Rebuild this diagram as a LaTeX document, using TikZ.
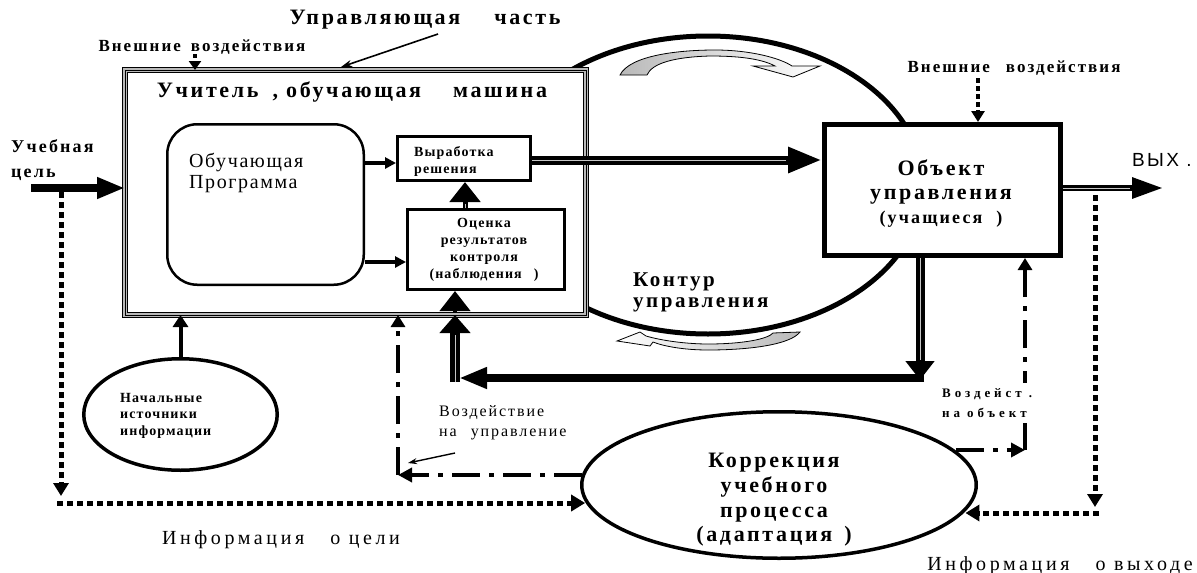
\documentclass[tikz,border=0pt]{standalone}
\usepackage{fontspec}
\setmainfont{Liberation Serif}
\newfontfamily\wserif[LetterSpace=12]{Liberation Serif}
\newfontfamily\rserif[LetterSpace=18]{Liberation Serif}
\newfontfamily\nserif[LetterSpace=8]{Liberation Serif}
\newfontfamily\wwserif[LetterSpace=30]{Liberation Serif}
\newfontfamily\wsans[LetterSpace=12]{Liberation Sans}
\usetikzlibrary{arrows.meta,shapes.geometric}
\newcommand\txtsize[2]{\fontsize{#1pt}{#2pt}\selectfont}

\begin{document}
\begin{tikzpicture}[x=1pt,y=-1pt,
  every node/.style={inner sep=0pt},
  boxnode/.style={draw, fill=white, inner sep=0pt},
  ovalnode/.style={ellipse, draw, fill=white, inner sep=0pt},
  dotline/.style={line width=5pt, dash pattern=on 6pt off 4pt},
  dashdot/.style={line width=4.5pt, dash pattern=on 28pt off 9pt on 5pt off 9pt},
  pointer/.style={line width=1.6pt, -{Stealth[length=11pt,width=7pt]}},
  whitecore/.style={postaction={draw=gray!45, line width=0.6pt, -, shorten >=#1}},
  bendarrow/.style={draw=black, line width=0.8pt}
]
\useasboundingbox (0,0) rectangle (1197,573);

% control contour
\draw[line width=5pt] (708,185) ellipse [x radius=215pt, y radius=149pt];

% circulation arrows along the contour
\begin{scope}[shift={(720,63)}]
  \shade[bendarrow, left color=gray!55, right color=white]
    (-100,12) .. controls (-90,-8) and (-40,-13) .. (-5,-13)
    .. controls (30,-13) and (60,-5) .. (72,3)
    -- (100,3) -- (73,14) -- (33,3) -- (55,3)
    .. controls (40,-5) and (15,-7) .. (-10,-7)
    .. controls (-45,-6) and (-68,0) .. (-73,12) -- cycle;
\end{scope}
\begin{scope}[shift={(708,341)}]
  \shade[bendarrow, left color=white, right color=gray!55]
    (92,-9) .. controls (82,4) and (40,9) .. (0,9)
    .. controls (-25,9) and (-45,5) .. (-55,1)
    -- (-58,5) -- (-91,0) -- (-68,-9) -- (-62,-5)
    .. controls (-45,0) and (-20,3) .. (0,3)
    .. controls (35,3) and (60,-2) .. (65,-8) -- cycle;
\end{scope}

% control part: triple frame
\node[boxnode, line width=6pt, outer sep=0pt, minimum width=461pt, minimum height=245pt] (frame) at (355.5,192.5) {};
\draw[gray!55, line width=3.6pt] (frame.south west) rectangle (frame.north east);
\draw[line width=1pt] (frame.south west) rectangle (frame.north east);

% blocks
\node[boxnode, line width=2.5pt, rounded corners=30pt, minimum width=196.5pt, minimum height=160.5pt] (prog) at (265.5,204.5) {};
\node[boxnode, line width=3pt, minimum width=133pt, minimum height=44pt] (vyr) at (464,158.5) {};
\node[boxnode, line width=3pt, minimum width=157pt, minimum height=80pt] (ots) at (486,249.5) {};
\node[boxnode, line width=5pt, minimum width=236pt, minimum height=131pt] (obj) at (942.5,190) {};
\node[ovalnode, line width=3.5pt, minimum width=394.5pt, minimum height=146.5pt] (korr) at (779,485) {};
\node[ovalnode, line width=3.5pt, minimum width=193.5pt, minimum height=111.5pt] (nach) at (180.5,414.5) {};

% learning goal input
\coordinate (goalsrc) at (31,188);
\draw[line width=8pt, -{Triangle[length=28pt,width=20pt]}] (goalsrc) -- (goalsrc -| frame.west);

% goal information to the correction block
\coordinate (gd0) at (61,192);
\coordinate (gd1) at (61,496);
\coordinate (gd2) at (57,503);
\draw[dotline, -{Triangle[length=13pt,width=15pt]}] (gd0) -- (gd1);
\draw[dotline, -{Triangle[length=14pt,width=16pt]}] (gd2) -- (gd2 -| korr.185);

% external influences on the control part
\coordinate (exl) at (195,54);
\draw[line width=4pt, dash pattern=on 4pt off 3pt, -{Triangle[length=9pt,width=12pt]}] (exl) -- (exl |- frame.north);

% title pointer
\coordinate (ttlfoot) at (438,34);
\coordinate (ttlhit) at (341,67);
\draw[pointer] (ttlfoot) -- (ttlhit);

% program to decision and evaluation
\coordinate (pv) at (0,163);
\coordinate (po) at (0,262);
\draw[line width=3.5pt, -{Triangle[length=11pt,width=11pt]}] (prog.east |- pv) -- (vyr.west |- pv);
\draw[line width=3.5pt, -{Triangle[length=11pt,width=11pt]}] (prog.east |- po) -- (ots.west |- po);

% evaluation to decision
\coordinate (ov) at (465,0);
\draw[line width=5pt, -{Triangle[length=20pt,width=30pt]}, whitecore=22pt] (ots.north -| ov) -- (vyr.south -| ov);

% decision to controlled object
\coordinate (lv1) at (0,160);
\draw[line width=9pt, -{Triangle[length=34pt,width=24pt]}, whitecore=36pt] (vyr.east |- lv1) -- (obj.west |- lv1);

% object output
\coordinate (outend) at (1163,188);
\draw[line width=6pt, -{Triangle[length=31pt,width=20pt]}, whitecore=33pt] (obj.east |- outend) -- (outend);

% external influences on the object
\coordinate (exr) at (978,78);
\draw[line width=4.5pt, dash pattern=on 5pt off 3pt, -{Triangle[length=11pt,width=13pt]}] (exr) -- (exr |- obj.north);

% main feedback loop
\coordinate (fbx) at (920,380);
\draw[line width=9pt, -{Triangle[length=19pt,width=28pt]}, whitecore=20pt] (obj.south -| fbx) -- (fbx);
\coordinate (fbr) at (924,378);
\coordinate (fbl) at (459,378);
\draw[line width=8pt, -{Triangle[length=28pt,width=20pt]}] (fbr) -- (fbl);
\coordinate (fbb) at (455,382);
\draw[line width=10pt, -{Triangle[length=18pt,width=30pt]}, whitecore=20pt] (fbb) -- (fbb |- frame.south);
\coordinate (fbm) at (455,312);
\draw[line width=4pt, -{Triangle[length=20pt,width=30pt]}] (fbm) -- (fbm |- ots.south);

% correction acting on the object
\coordinate (vc) at (1025,450);
\draw[dashdot, -{Triangle[length=14pt,width=14pt]}] (korr.11 |- vc) -- (vc);
\draw[dashdot, -{Triangle[length=12pt,width=14pt]}] (vc) -- (vc |- obj.south);

% correction acting on the control part
\coordinate (uc) at (398,475);
\draw[dashdot, -{Triangle[length=14pt,width=14pt]}] (korr.177 |- uc) -- (uc);
\draw[dashdot, -{Triangle[length=12pt,width=14pt]}] (uc) -- (uc |- frame.south);
\coordinate (vp) at (455,453);
\coordinate (vq) at (408,463);
\draw[line width=1.4pt, -{Stealth[length=9pt,width=6pt]}] (vp) -- (vq);

% initial information sources
\draw[line width=4pt, -{Triangle[length=12pt,width=15pt]}] (nach.north) -- (nach.north |- frame.south);

% output information to the correction block
\coordinate (od0) at (1095,195);
\coordinate (od1) at (1095,507);
\coordinate (od2) at (1099,513);
\draw[dotline, -{Triangle[length=13pt,width=15pt]}] (od0) -- (od1);
\draw[dotline, -{Triangle[length=14pt,width=16pt]}] (od2) -- (od2 -| korr.352);

% texts
\node[font={\wserif\bfseries\txtsize{22}{26}}] (ttl) at (425,20) {Управляющая\hspace{34pt}часть};
\node[font={\wserif\bfseries\txtsize{17}{19}}] (extl) at (202,47) {Внешние\hspace{10pt}воздействия};
\node[font={\wserif\bfseries\txtsize{22}{26}}] (teach) at (352,92) {Учитель\hspace{14pt}, обучающая\hspace{32pt}машина};
\node[font={\nserif\txtsize{20}{21}}, align=left, anchor=west] (progtxt) at (189,172.5) {Обучающая\\Программа};
\node[font={\nserif\bfseries\txtsize{14}{17}}, align=left, anchor=west] (vyrtxt) at (414,161.5) {Выработка\\решения};
\node[font={\nserif\bfseries\txtsize{14}{17}}, align=center] (otstxt) at (484,250) {Оценка\\результатов\\контроля\\(наблюдения\hspace{12pt})};
\node[font={\wserif\bfseries\txtsize{22}{24}}, align=center] (objtxt) at (941,194) {Объект\\управления\\{\txtsize{18}{24}(учащиеся\hspace{14pt})}};
\node[font={\wserif\bfseries\txtsize{17}{19}}] (extr) at (1014,68) {Внешние\hspace{16pt}воздействия};
\node[font={\wsans\txtsize{19}{22}}] (outtxt) at (1162,160) {ВЫХ .};
\node[font={\wserif\bfseries\txtsize{18}{25}}, align=left, anchor=west] (goaltxt) at (11,160.5) {Учебная\\цель};
\node[font={\wserif\bfseries\txtsize{21}{21}}, align=left, anchor=west] (konttxt) at (633,292.5) {Контур\\управления};
\node[font={\nserif\bfseries\txtsize{14}{16.5}}, align=left, anchor=west] (nachtxt) at (120,415.5) {Начальные\\источники\\информации};
\node[font={\wserif\txtsize{16}{20}}, align=left, anchor=west] (vuprtxt) at (439,423) {Воздействие\\на\hspace{14pt}управление};
\node[font={\wwserif\bfseries\txtsize{13}{20}}, align=left, anchor=west, fill=white, inner ysep=5pt] (vobjtxt) at (942,403) {Воздейст .\\на объект};
\node[font={\rserif\txtsize{20}{22}}] (infgoal) at (281,540) {Информация\hspace{26pt}о цели};
\node[font={\rserif\txtsize{20}{22}}] (infout) at (1060,566) {Информация\hspace{26pt}о выходе};
\node[font={\wserif\bfseries\txtsize{22}{24.7}}, align=center] (korrtxt) at (774,500) {Коррекция\\учебного\\процесса\\(адаптация\hspace{12pt})};
\end{tikzpicture}
\end{document}
